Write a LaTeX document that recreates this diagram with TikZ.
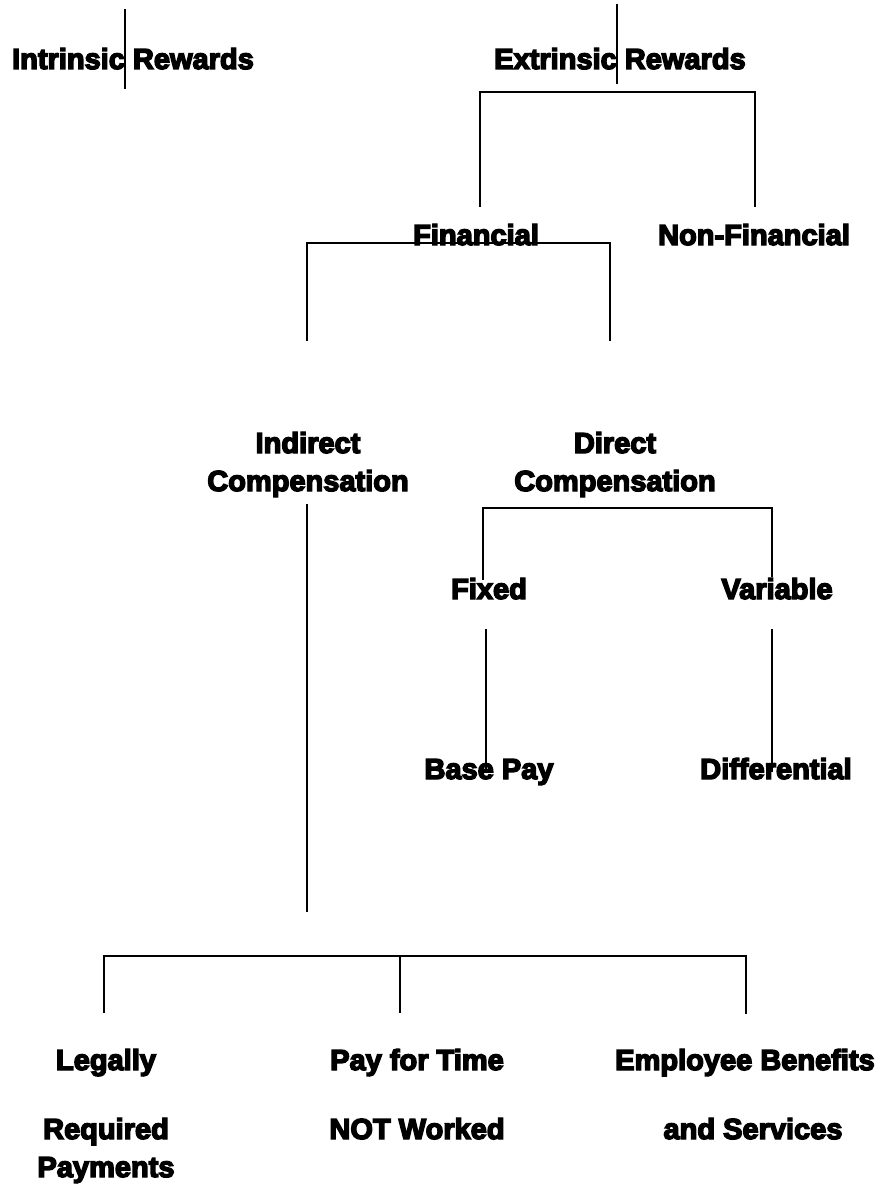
\documentclass[tikz,border=0pt]{standalone}
\usepackage{fontspec}
\setmainfont{Liberation Sans}[BoldFeatures={FakeBold=5}]
\begin{document}
\begin{tikzpicture}[x=1pt,y=-1pt,
  lbl/.style={font=\bfseries\fontsize{29}{38}\selectfont, inner sep=0pt, anchor=base, align=center},
  conn/.style={line width=1.6pt, black}]
\useasboundingbox[fill=white] (0,0) rectangle (876,1190);
% labels (anchor=base is the baseline of the last line)
\node[lbl] (intr)   at (133,69)  {Intrinsic Rewards};
\node[lbl] (extr)   at (620,69)  {Extrinsic Rewards};
\node[lbl] (fin)    at (476,245) {Financial};
\node[lbl] (nonfin) at (754,245) {Non-Financial};
\node[lbl] (indir)  at (308,491) {Indirect\\Compensation};
\node[lbl] (dir)    at (615,491) {Direct\\Compensation};
\node[lbl] (fixed)  at (489,599) {Fixed};
\node[lbl] (var)    at (777,599) {Variable};
\node[lbl] (basep)  at (489,779) {Base Pay};
\node[lbl] (diff)   at (776,779) {Differential};
\node[lbl] (legal)  at (106,1177) {Legally\\[31pt]Required\\Payments};
\node[lbl] (time)   at (417,1139) {Pay for Time\\[31pt]NOT Worked};
\node[lbl] (ben)    at (745,1139) {Employee Benefits\\[31pt]\hspace*{16pt}and Services};
% connector points
\coordinate (i1) at (125,9);   \coordinate (i2) at (125,89);
\coordinate (e1) at (617,4);   \coordinate (e2) at (617,84);
\coordinate (eb1) at (480,207); \coordinate (eb2) at (480,92);
\coordinate (eb3) at (755,92);  \coordinate (eb4) at (755,207);
\coordinate (fb1) at (307,341); \coordinate (fb2) at (307,243);
\coordinate (fb3) at (610,243); \coordinate (fb4) at (610,341);
\coordinate (il1) at (307,504); \coordinate (il2) at (307,912);
\coordinate (db1) at (483,580); \coordinate (db2) at (483,508);
\coordinate (db3) at (772,508); \coordinate (db4) at (772,577);
\coordinate (fx1) at (486,629); \coordinate (fx2) at (486,772);
\coordinate (vr1) at (772,629); \coordinate (vr2) at (772,772);
\coordinate (bb1) at (104,1013); \coordinate (bb2) at (104,956);
\coordinate (bb3) at (746,956);  \coordinate (bb4) at (746,1014);
\coordinate (bm1) at (400,956);  \coordinate (bm2) at (400,1013);
% connectors
\draw[conn] (i1) -- (i2);
\draw[conn] (e1) -- (e2);
\draw[conn] (eb1) -- (eb2) -- (eb3) -- (eb4);
\draw[conn] (fb1) -- (fb2) -- (fb3) -- (fb4);
\draw[conn] (il1) -- (il2);
\draw[conn] (db1) -- (db2) -- (db3) -- (db4);
\draw[conn] (fx1) -- (fx2);
\draw[conn] (vr1) -- (vr2);
\draw[conn] (bb1) -- (bb2) -- (bb3) -- (bb4);
\draw[conn] (bm1) -- (bm2);
\end{tikzpicture}
\end{document}
